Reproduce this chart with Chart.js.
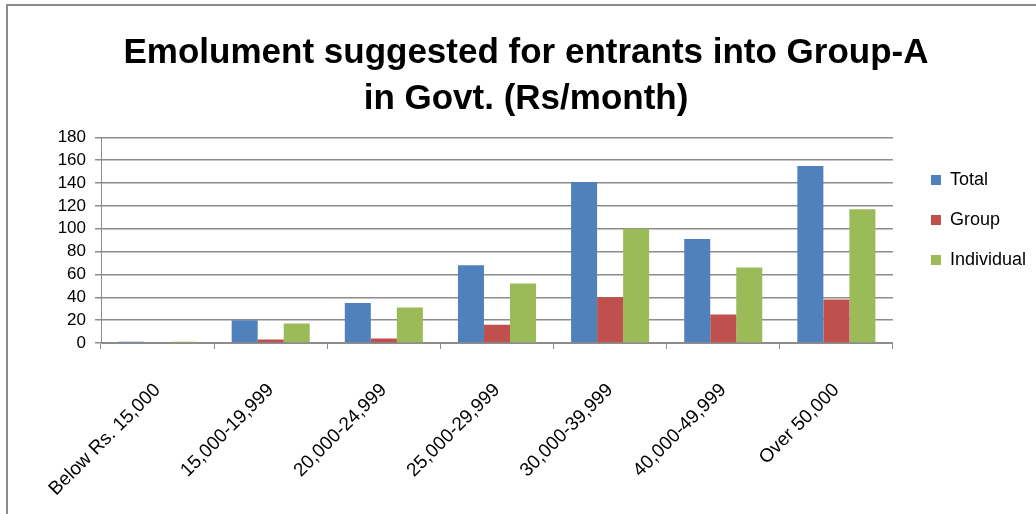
<!DOCTYPE html>
<html>
<head>
<meta charset="utf-8">
<script src="https://cdn.jsdelivr.net/npm/chart.js@4.4.1/dist/chart.umd.min.js"></script>
<style>
  html, body { margin: 0; padding: 0; background: #fff; overflow: hidden; }
  #frame { position: absolute; left: 6px; top: 4px; width: 2000px; height: 2000px; border: 2px solid #8c8c8c; }
  #wrap { position: absolute; left: 0; top: 0; width: 1036px; height: 514px; }
</style>
</head>
<body>
<div id="frame"></div>
<div id="wrap"><canvas id="chart-bars"></canvas></div>
<script>
var categories = ['Below Rs. 15,000', '15,000-19,999', '20,000-24,999', '25,000-29,999', '30,000-39,999', '40,000-49,999', 'Over 50,000']
var totalData = [1, 20, 35, 68, 141, 91, 155]
var groupData = [0, 3, 4, 16, 40, 25, 38]
var individualData = [1, 17, 31, 52, 100, 66, 117]
var titleLines = ['Emolument suggested for entrants into Group-A', 'in Govt. (Rs/month)']

var FONT = "'Liberation Sans', Arial, sans-serif"
var GRID = '#8c8c8c'

var ctx = document.getElementById('chart-bars').getContext('2d')

var ChartEmolument = new Chart(ctx, {
  type: 'bar',
  data: {
    labels: categories,
    datasets: [
      { label: 'Total', data: totalData, backgroundColor: '#4f81bd' },
      { label: 'Group', data: groupData, backgroundColor: '#c0504d' },
      { label: 'Individual', data: individualData, backgroundColor: '#9bbb59' },
    ],
  },
  options: {
    responsive: true,
    maintainAspectRatio: false,
    animation: false,
    categoryPercentage: 0.69,
    barPercentage: 1,
    layout: {
      padding: { left: 16, right: 0, top: 0, bottom: 0 },
    },
    plugins: {
      title: {
        display: true,
        text: titleLines,
        color: '#000',
        font: { family: FONT, size: 35, weight: 'bold', lineHeight: 1.32 },
        padding: { top: 30, bottom: 15 },
      },
      legend: {
        position: 'right',
        align: 'start',
        title: {
          display: true,
          text: ' ',
          font: { size: 5 },
          padding: { top: 143, bottom: 0 },
        },
        labels: {
          color: '#000',
          boxWidth: 10,
          boxHeight: 10,
          padding: 22,
          font: { family: FONT, size: 18 },
        },
      },
      tooltip: { enabled: false },
    },
    scales: {
      x: {
        grid: {
          display: true,
          drawOnChartArea: false,
          drawTicks: true,
          tickLength: 6,
          color: GRID,
        },
        border: { color: GRID, width: 1 },
        ticks: {
          color: '#000',
          minRotation: 45,
          maxRotation: 45,
          padding: 30,
          autoSkip: false,
          font: { family: FONT, size: 19 },
        },
        afterFit: function (scale) { scale.height = 171 },
      },
      y: {
        min: 0,
        max: 180,
        grid: {
          color: GRID,
          lineWidth: 1.5,
          drawTicks: true,
          tickLength: 6,
        },
        border: { color: GRID, width: 1 },
        ticks: {
          stepSize: 20,
          autoSkip: false,
          color: '#000',
          padding: 9,
          font: { family: FONT, size: 17 },
        },
        afterFit: function (scale) { scale.width = 85 },
      },
      yRight: {
        type: 'linear',
        position: 'right',
        display: true,
        grid: { display: false, drawTicks: false },
        border: { display: false },
        ticks: { display: false },
        afterFit: function (scale) { scale.width = 16 },
      },
    },
  },
})
</script>
</body>
</html>
